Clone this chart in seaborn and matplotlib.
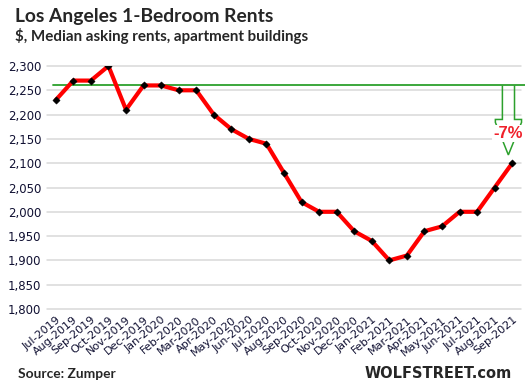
import numpy as np
import pandas as pd
import matplotlib
matplotlib.use('Agg')
import matplotlib.pyplot as plt
from matplotlib.patches import Polygon
import seaborn as sns

months = ['Jul-2019', 'Aug-2019', 'Sep-2019', 'Oct-2019', 'Nov-2019', 'Dec-2019',
          'Jan-2020', 'Feb-2020', 'Mar-2020', 'Apr-2020', 'May-2020', 'Jun-2020',
          'Jul-2020', 'Aug-2020', 'Sep-2020', 'Oct-2020', 'Nov-2020', 'Dec-2020',
          'Jan-2021', 'Feb-2021', 'Mar-2021', 'Apr-2021', 'May-2021', 'Jun-2021',
          'Jul-2021', 'Aug-2021', 'Sep-2021']
rents = [2230, 2270, 2270, 2300, 2210, 2260,
         2260, 2250, 2250, 2200, 2170, 2150,
         2140, 2080, 2020, 2000, 2000, 1960,
         1940, 1900, 1910, 1960, 1970, 2000,
         2000, 2050, 2100]
ref_level = 2260
change_label = '-7%'
yticks = list(range(1800, 2301, 50))

df = pd.DataFrame({'pos': np.arange(len(months)), 'month': months, 'rent': rents})

sns.set_style('white')
plt.rcParams['font.family'] = ['DejaVu Sans']

fig = plt.figure(figsize=(5.25, 3.88), dpi=100)
ax = fig.add_axes([47/525, 1 - 309/388, (521-47)/525, (309-66)/388])

# reference line at the old level
ax.plot([-0.15, len(months) + 2], [ref_level, ref_level], color='#2ca02c', lw=1.3, zorder=2, clip_on=False)

sns.lineplot(data=df, x='pos', y='rent', color='#ff0000', lw=3, ax=ax, zorder=3)
sns.scatterplot(data=df, x='pos', y='rent', color='black', marker='D', s=14, ax=ax, zorder=4, edgecolor='black')

ax.set_xlim(-0.5, len(months) - 0.5)
ax.set_ylim(1800, 2300)
ax.set_yticks(yticks)
ax.set_yticklabels([f'{v:,}' for v in yticks], fontsize=8.5, color='#111133')
ax.set_xticks(df['pos'])
ax.set_xticklabels(months, rotation=40, ha='right', rotation_mode='anchor', fontsize=8, color='#111133')
ax.tick_params(axis='both', length=0, pad=4)
ax.grid(axis='y', color='#d9d9d9', lw=1.1)
for gl in ax.get_ygridlines():
    gl.set_clip_on(False)
ax.grid(axis='x', visible=False)
for s in ax.spines.values():
    s.set_visible(False)
ax.set_xlabel('')
ax.set_ylabel('')

# block-arrow outline showing the drop
x0, x1, xl, xr, xt = 25.44, 26.13, 25.04, 26.53, 25.78
arrow = Polygon([(x0, ref_level), (x0, 2190), (xl, 2190), (xl, 2184), (xt, 2117),
                 (xr, 2184), (xr, 2190), (x1, 2190), (x1, ref_level)],
                closed=False, fill=False, edgecolor='#2ca02c', lw=1.1, zorder=5, clip_on=False)
ax.add_patch(arrow)
ax.text(xt, 2161, change_label, color='#f0202a', fontsize=12, fontweight='bold', ha='center', va='center',
        fontfamily='Liberation Sans', zorder=6,
        bbox=dict(facecolor='white', edgecolor='none', pad=0.8))

fig.text(15/525, 1 - 22/388, 'Los Angeles 1-Bedroom Rents', fontsize=13.9, fontweight='bold',
         fontfamily='Lato', va='baseline', ha='left')
fig.text(15/525, 1 - 41/388, '$, Median asking rents, apartment buildings', fontsize=10.9,
         fontweight='bold', fontfamily='Lato', va='baseline', ha='left')
fig.text(18/525, 1 - 378/388, 'Source: Zumper', fontsize=9.9, fontweight='bold',
         fontfamily='Lato', va='baseline', ha='left')
fig.text(512/525, 1 - 378/388, 'WOLFSTREET.com', fontsize=10.5, fontweight='bold',
         fontfamily='DejaVu Sans', va='baseline', ha='right')

fig.savefig('out.png', dpi=100)
